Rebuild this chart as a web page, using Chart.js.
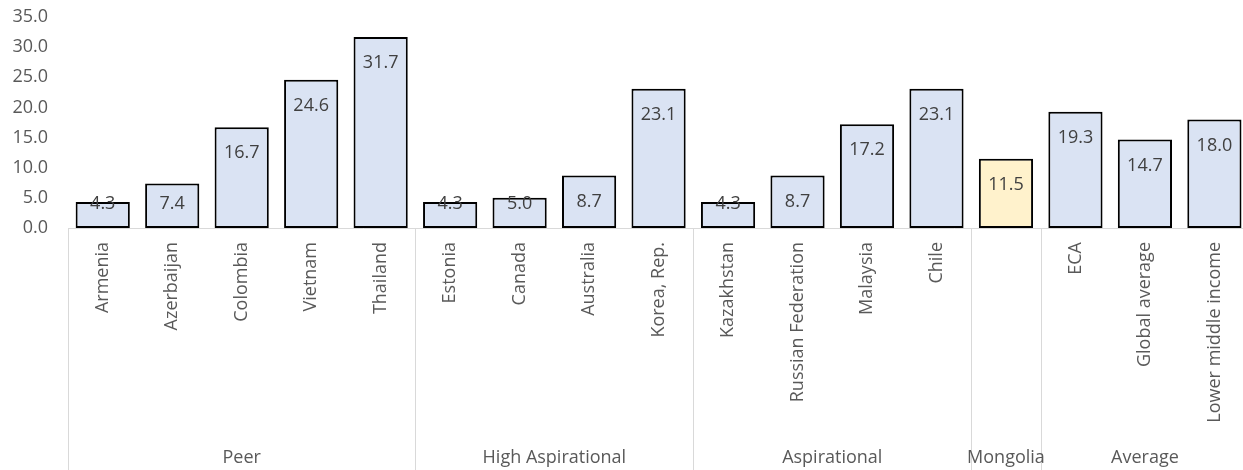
<!DOCTYPE html>
<html>
<head>
<meta charset="utf-8">
<script src="https://cdn.jsdelivr.net/npm/chart.js@4.4.1/dist/chart.umd.min.js"></script>
<style>
  html, body { margin: 0; padding: 0; background: #fff; overflow: hidden; }
  #wrap { width: 1250px; height: 470px; }
</style>
</head>
<body>
<div id="wrap"><canvas id="chart" width="1250" height="470"></canvas></div>
<script>
const categories = [
  "Armenia", "Azerbaijan", "Colombia", "Vietnam", "Thailand",
  "Estonia", "Canada", "Australia", "Korea, Rep.",
  "Kazakhstan", "Russian Federation", "Malaysia", "Chile",
  "",
  "ECA", "Global average", "Lower middle income"
];
const values = [4.3, 7.4, 16.7, 24.6, 31.7, 4.3, 5.0, 8.7, 23.1, 4.3, 8.7, 17.2, 23.1, 11.5, 19.3, 14.7, 18.0];
const groupNames = ["Peer", "High Aspirational", "Aspirational", "Mongolia", "Average"];
const groupSizes = [5, 4, 4, 1, 3];
const yTicks = [0, 5, 10, 15, 20, 25, 30, 35];

const highlightGroup = "Mongolia";
const textColor = "#595959";
const fontFamily = "'Open Sans', Lato, sans-serif";

// which group each bar belongs to
const barGroup = [];
groupSizes.forEach((n, g) => { for (let i = 0; i < n; i++) barGroup.push(groupNames[g]); });
const barColors = barGroup.map(g => g === highlightGroup ? "#FFF2CC" : "#DAE3F3");

Chart.defaults.font.family = fontFamily;
Chart.defaults.font.size = 18;
Chart.defaults.color = textColor;

// value labels, placed inside the top of each bar
const valueLabels = {
  id: "valueLabels",
  afterDatasetsDraw(chart) {
    const ctx = chart.ctx;
    const y0 = chart.scales.y.getPixelForValue(0);
    const meta = chart.getDatasetMeta(0);
    ctx.save();
    ctx.fillStyle = "#404040";
    ctx.font = "18px " + fontFamily;
    ctx.textAlign = "center";
    ctx.textBaseline = "middle";
    meta.data.forEach((bar, i) => {
      const y = Math.min(bar.y + 26, y0 - 24);
      ctx.fillText(values[i].toFixed(1), bar.x, y);
    });
    ctx.restore();
  }
};

// group separators and group names under the axis
const groupAxis = {
  id: "groupAxis",
  afterDraw(chart) {
    const ctx = chart.ctx;
    const x = chart.scales.x;
    const y0 = chart.scales.y.getPixelForValue(0);
    const half = (x.getPixelForValue(1) - x.getPixelForValue(0)) / 2;
    const line = (px) => {
      ctx.beginPath();
      ctx.moveTo(Math.round(px) + 0.5, y0);
      ctx.lineTo(Math.round(px) + 0.5, chart.height);
      ctx.stroke();
    };
    ctx.save();
    ctx.strokeStyle = "#d9d9d9";
    ctx.lineWidth = 1;
    ctx.fillStyle = textColor;
    ctx.font = "18px " + fontFamily;
    ctx.textAlign = "center";
    ctx.textBaseline = "middle";
    line(x.getPixelForValue(0) - half);
    let start = 0;
    groupSizes.forEach((n, g) => {
      const end = start + n - 1;
      line(x.getPixelForValue(end) + half);
      const cx = (x.getPixelForValue(start) + x.getPixelForValue(end)) / 2;
      ctx.fillText(groupNames[g], cx, chart.height - 12);
      start += n;
    });
    ctx.restore();
  }
};

new Chart(document.getElementById("chart"), {
  type: "bar",
  data: {
    labels: categories,
    datasets: [{
      data: values,
      backgroundColor: barColors,
      borderColor: "#000000",
      borderWidth: 2,
      borderSkipped: false,
      categoryPercentage: 1,
      barPercentage: 0.78
    }]
  },
  options: {
    responsive: false,
    devicePixelRatio: 1,
    animation: false,
    layout: { padding: { top: 17, right: 0, bottom: 0, left: 0 } },
    plugins: {
      legend: { display: false },
      tooltip: { enabled: false }
    },
    scales: {
      x: {
        grid: { display: false, drawTicks: false },
        border: { display: true, color: "#d9d9d9", width: 1 },
        ticks: {
          autoSkip: false,
          minRotation: 90,
          maxRotation: 90,
          padding: 14,
          color: textColor
        },
        afterFit: (scale) => { scale.height = 242; }
      },
      y: {
        min: 0,
        max: 35,
        afterBuildTicks: (scale) => { scale.ticks = yTicks.map(v => ({ value: v })); },
        grid: { display: false, drawTicks: false },
        border: { display: false },
        ticks: {
          padding: 20,
          color: textColor,
          callback: (v) => Number(v).toFixed(1)
        },
        afterFit: (scale) => {
          scale.width = 68;
          scale.paddingTop = 0;
          scale.paddingBottom = 0;
        }
      }
    }
  },
  plugins: [valueLabels, groupAxis]
});
</script>
</body>
</html>
